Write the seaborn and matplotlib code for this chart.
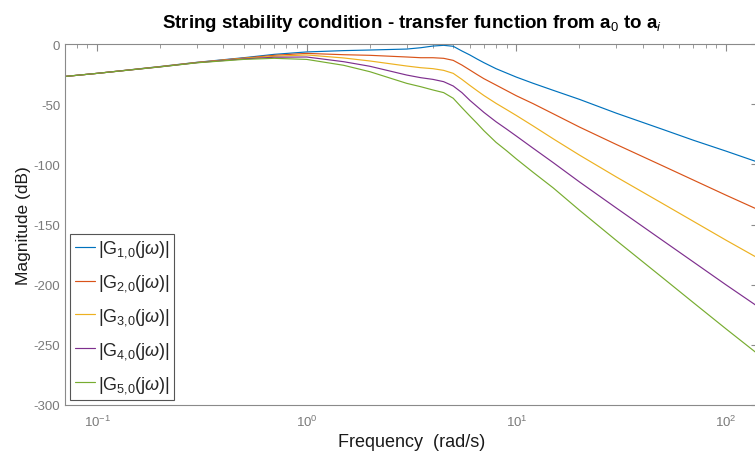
import matplotlib
matplotlib.use('Agg')
import matplotlib.pyplot as plt
import seaborn as sns
import pandas as pd

# frequency (rad/s) and magnitude (dB)
freq = [0.07, 0.1, 0.2, 0.3, 0.5, 0.7, 1, 1.5, 2, 3, 3.5, 4, 4.5, 5, 5.5, 6,
        6.5, 7, 8, 9, 10, 12, 15, 20, 30, 50, 70, 100, 140]

g1 = [-27.0, -24.4, -18.7, -15.2, -11.4, -8.6, -6.6, -5.5, -5.0, -4.2, -3.1, -1.7,
      -1.1, -1.9, -5.8, -9.1, -12.5, -15.5, -20.5, -24.2, -27.5, -32.6, -38.5,
      -46.0, -57.5, -71.0, -80.0, -89.0, -97.8]
g2 = [-27.0, -24.4, -18.8, -15.3, -11.7, -9.4, -7.8, -8.9, -9.4, -10.8, -11.4, -11.4,
      -11.9, -13.6, -17.5, -21.6, -25.4, -28.8, -34.1, -38.8, -43.0, -49.5, -58.0,
      -69.0, -83.5, -101.3, -113.1, -125.6, -137.1]
g3 = [-27.0, -24.4, -18.9, -15.4, -12.0, -10.2, -9.1, -11.6, -14.1, -18.3, -19.7, -20.5,
      -21.9, -24.4, -29.4, -34.4, -38.8, -42.8, -49.3, -54.6, -59.4, -68.0, -78.8,
      -92.3, -110.5, -132.7, -147.4, -163.0, -177.3]
g4 = [-27.0, -24.4, -19.0, -15.5, -12.4, -11.0, -10.8, -14.7, -18.5, -25.8, -28.0, -29.4,
      -31.3, -34.9, -40.4, -46.8, -52.0, -56.8, -64.6, -70.8, -76.5, -86.5, -98.6,
      -114.6, -136.3, -163.4, -181.2, -200.1, -217.5]
g5 = [-27.0, -24.4, -19.0, -15.6, -12.8, -11.9, -12.8, -17.7, -23.0, -32.7, -35.5, -38.2,
      -40.4, -45.1, -52.9, -59.8, -66.0, -72.0, -81.7, -88.8, -95.5, -106.5, -119.6,
      -138.1, -163.3, -194.4, -215.0, -236.7, -256.8]

labels = [r'|G$_{1{,}0}$(j$\mathit{\omega}$)|', r'|G$_{2{,}0}$(j$\mathit{\omega}$)|',
          r'|G$_{3{,}0}$(j$\mathit{\omega}$)|', r'|G$_{4{,}0}$(j$\mathit{\omega}$)|',
          r'|G$_{5{,}0}$(j$\mathit{\omega}$)|']
colors = ['#0072BD', '#D95319', '#EDB120', '#7E2F8E', '#77AC30']

rows = []
for lab, mag in zip(labels, [g1, g2, g3, g4, g5]):
    for f, m in zip(freq, mag):
        rows.append({'freq': f, 'mag': m, 'tf': lab})
df = pd.DataFrame(rows)

sns.set_theme(style='white')
plt.rcParams['font.family'] = ['Liberation Sans', 'DejaVu Sans']
plt.rcParams['mathtext.fontset'] = 'custom'
plt.rcParams['mathtext.rm'] = 'Liberation Sans'
plt.rcParams['mathtext.it'] = 'Liberation Sans:italic'
plt.rcParams['mathtext.bf'] = 'Liberation Sans:bold'
plt.rcParams['axes.unicode_minus'] = False

fig = plt.figure(figsize=(7.55, 4.52), dpi=100)
ax = fig.add_axes([65 / 755, 46 / 452, 693 / 755, 361 / 452])

sns.lineplot(data=df, x='freq', y='mag', hue='tf', palette=colors, sort=False,
             estimator=None, linewidth=0.85, ax=ax)

ax.set_xscale('log')
ax.set_xlim(0.0703, 142.2)
ax.set_ylim(-300, 0)
ax.set_yticks([0, -50, -100, -150, -200, -250, -300])

for s in ax.spines.values():
    s.set_color('#8a8a8a')
    s.set_linewidth(0.8)
ax.tick_params(which='both', direction='in', top=True, right=True, colors='#8a8a8a',
               labelcolor='#7a7a7a', labelsize=9.5)
ax.tick_params(which='major', length=5, width=0.8)
ax.tick_params(which='minor', length=3, width=0.6)
ax.tick_params(axis='x', pad=6)

ax.set_xlabel('Frequency  (rad/s)', fontsize=13, color='#1a1a1a', labelpad=3)
ax.set_ylabel('Magnitude (dB)', fontsize=12.5, color='#1a1a1a', labelpad=2)
ax.set_title(r'String stability condition - transfer function from a$_0$ to a$_i$',
             fontsize=13.5, fontweight='bold', color='black', pad=12)

handles, labs = ax.get_legend_handles_labels()
leg = ax.legend(handles, labs, loc='lower left', fontsize=13, frameon=True,
                fancybox=False, edgecolor='#555555', framealpha=1,
                handlelength=1.1, handletextpad=0.15, labelspacing=0.72,
                borderpad=0.25, borderaxespad=0.3)
leg.get_frame().set_linewidth(0.8)

plt.savefig('out.png', dpi=100)
